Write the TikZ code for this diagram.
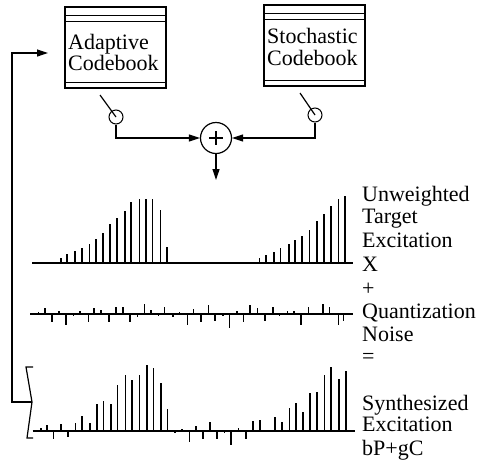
\documentclass[tikz,border=0pt]{standalone}
\usepackage{fontspec}
\setmainfont{Liberation Serif}
\usetikzlibrary{arrows.meta}
\begin{document}
\begin{tikzpicture}[x=1pt,y=-1pt,
  tri/.style={-{Triangle[length=11pt,width=7pt]}},
  cbbox/.style={draw, line width=1.1pt, minimum width=101pt, minimum height=81pt, inner sep=0pt},
  lbl/.style={anchor=base west, inner sep=0pt, font=\fontsize{22}{23.5}\selectfont},
  swc/.style={draw, circle, minimum size=14pt, inner sep=0pt, line width=1pt},
  wire/.style={line width=1.2pt},
  axis/.style={line width=2pt},
  spike/.style={line width=1.6pt}]
\useasboundingbox (0,0) rectangle (478,464);
% codebooks
\node[cbbox] (cbA) at (115.5,47.5) {};
\draw[line width=1.1pt] (cbA.north west) ++(0,8.7) -- ++(101,0);
\draw[line width=1.1pt] (cbA.north west) ++(0,14.7) -- ++(101,0);
\draw[line width=1.1pt] (cbA.south west) ++(0,-6) -- ++(101,0);
\node[lbl] (tA1) at (68,49) {Adaptive};
\node[lbl] (tA2) at (68,70.5) {Codebook};
\node[cbbox] (cbS) at (314.5,45.5) {};
\draw[line width=1.1pt] (cbS.north west) ++(0,9) -- ++(101,0);
\draw[line width=1.1pt] (cbS.north west) ++(0,15) -- ++(101,0);
\draw[line width=1.1pt] (cbS.south west) ++(0,-6) -- ++(101,0);
\node[lbl] (tS1) at (267,43.5) {Stochastic};
\node[lbl] (tS2) at (267,65) {Codebook};
% switches
\node[swc] (swA) at (116,117) {};
\node[swc] (swS) at (315,115) {};
\coordinate (bA) at (100,95);
\coordinate (bS) at (300,93);
\draw[wire] (bA) -- (swA.center);
\draw[wire] (bS) -- (swS.center);
% summer
\node[draw, circle, minimum size=31pt, inner sep=0pt, line width=1.2pt] (sum) at (216,138) {};
\draw[line width=1.2pt] (sum.center) ++(-7,0) -- ++(14,0);
\draw[line width=1.2pt] (sum.center) ++(0,-7) -- ++(0,14);
\draw[wire,tri] (swA.south) |- (sum.west);
\draw[wire,tri] (swS.south) |- (sum.east);
\coordinate (out) at (216,180);
\draw[wire,tri] (sum.south) -- (out);
% feedback
\coordinate (brT1) at (33,367);
\coordinate (brT2) at (26,367);
\coordinate (brV) at (32,402);
\coordinate (brB2) at (27,438);
\coordinate (brB1) at (33,438);
\draw[wire] (brT1) -- (brT2) -- (brV) -- (brB2) -- (brB1);
\coordinate (fbL) at (12,402);
\coordinate (fbEnd) at (48,53);
\draw[wire,tri] (brV) -- (fbL) |- (fbEnd);
% plot 1: target
\draw[axis] (32,262.5) -- (353,262.5);
\foreach \x/\h in {60.7/4.6,67/8.3,75/11.3,82/15,89.3/18.3,96/23.3,102.7/30,110/38.3,116.7/45,124.7/51.6,131/60.6,139.3/63.3,145.7/64,152.3/64,160.3/52.3,166.7/15.6,
  259.3/4.3,266/7.7,274/11,280.5/14.3,288.8/18.3,295/22.7,301.7/26.7,309.6/32.7,316.7/41.7,324/48.7,330.7/56.7,338.5/63.3,345.2/66.7}
  \draw[spike] (\x,262.5) -- ++(0,-\h);
% plot 2: noise
\draw[axis] (30,313.5) -- (353,313.5);
\foreach \x/\h in {38.3/2,45/5.3,51.7/-8.3,59/2.7,65.7/-11.7,73.3/-2.3,80/2.7,88.3/-8,94/6,101/3.3,108.7/-8,115.7/6.7,122.7/6.7,130/-8,137.3/-3.3,144.3/10,150.7/3.3,158.3/-2.3,164.3/6.7,172.7/-3,
  179.3/1.7,187.3/-11.7,193.3/5,200.7/-8.3,208.3/9,215/-7.7,222.7/-2.7,229.3/-14.3,236.7/2.3,243.3/-8.3,250/9,257.3/5.7,265/-7.7,272.7/6.3,279.3/-2.7,287.3/3,294/3,300.7/-11,308.3/6.3,315/-1.7,322.7/9.7,329.3/6.7,338.3/-11,343.3/-7.7}
  \draw[spike] (\x,313.5) -- ++(0,-\h);
% plot 3: synthesized
\draw[axis] (32.5,430.5) -- (355,430.5);
\foreach \x/\h in {40.7/2.3,46.7/5.7,53.3/-8.3,60.7/6.7,67.7/-6.7,75.3/7.3,82/14.3,90/7.7,96.7/26.7,103.3/29.3,110.7/26.7,117.3/45.7,125.3/56,132/51,139.3/56,146.7/65.7,153.3/62.3,160.7/47.7,167.3/21.7,175/-2.5,
  181.7/1.7,189.3/-11.7,196/5,202.7/-8.3,210/9,216.7/-8.3,224.3/-2.7,231/-14,238.3/2.3,246/-8.3,252.7/9.3,260/10.7,275/13.3,281.7/8.3,289.3/22.7,296/27.3,302.7/18.3,310/37.7,316.7/38.3,324.3/56,331/64,339/51.7,346/59.3}
  \draw[spike] (\x,430.5) -- ++(0,-\h);
% labels
\node[lbl] (l1) at (362,201.7) {Unweighted};
\node[lbl] (l2) at (362,223.3) {Target};
\node[lbl] (l3) at (362,247.3) {Excitation};
\node[lbl] (l4) at (362,271) {X};
\node[lbl] (l5) at (362,295.5) {+};
\node[lbl] (l6) at (362,318.3) {Quantization};
\node[lbl] (l7) at (362,341.7) {Noise};
\node[lbl] (l8) at (362,363.8) {=};
\node[lbl] (l9) at (362,410) {Synthesized};
\node[lbl] (l10) at (362,431.7) {Excitation};
\node[lbl] (l11) at (362,455) {bP+gC};
\end{tikzpicture}
\end{document}
